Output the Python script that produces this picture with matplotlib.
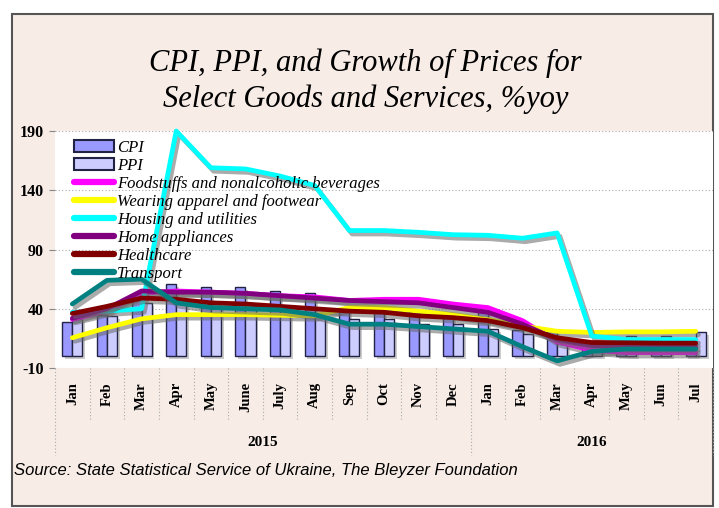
import matplotlib
matplotlib.use('Agg')
import matplotlib.pyplot as plt
import numpy as np
from matplotlib import patheffects as pe
from matplotlib.patches import Rectangle, Patch
from matplotlib.lines import Line2D

plt.rcParams['axes.unicode_minus'] = False

months = ["Jan", "Feb", "Mar", "Apr", "May", "June", "July", "Aug", "Sep", "Oct",
          "Nov", "Dec", "Jan", "Feb", "Mar", "Apr", "May", "Jun", "Jul"]
years = ["2015", "2016"]
cpi = [28.5, 35, 47, 61, 58, 58, 55, 53, 40, 39, 38, 36, 37, 22, 21, 9.8, 7.5, 7, 8]
ppi = [31, 34, 45, 49, 42, 41, 38, 35, 31, 31, 27, 27, 22.5, 19, 13, 13, 17, 17, 20]
food = [31, 38, 53, 55, 54, 53, 51, 50, 47, 48, 48, 44, 41, 30, 12, 5, 3, 3, 3]
apparel = [15.5, 24, 31.5, 35, 35, 35, 34.5, 34, 41, 41, 38, 35, 31, 25.5, 21, 20, 20.5, 20.5, 21]
housing = [37, 38, 40, 190, 159, 158, 152, 144, 106, 106, 104.5, 102.5, 102, 99.5, 104, 17, 14, 14, 14]
appliances = [32, 40, 55, 54, 54, 53, 51, 49, 47, 46, 45, 41, 37, 27, 14, 9, 8, 8, 8]
health = [36, 42, 49, 48, 45, 44, 42, 40, 38, 37, 34, 32.5, 30, 24, 15.5, 11.5, 11.3, 11, 11]
transport = [44, 64, 65, 45, 41, 40, 39, 35, 27, 27, 25, 23, 21, 8, -4, 4, 6, 6, 6]

series = [
    ("Foodstuffs and nonalcoholic beverages", food, "#FF00FF"),
    ("Wearing apparel and footwear", apparel, "#FFFF00"),
    ("Housing and utilities", housing, "#00FFFF"),
    ("Home appliances", appliances, "#800080"),
    ("Healthcare", health, "#800000"),
    ("Transport", transport, "#008080"),
]

W, H = 719, 508
fig = plt.figure(figsize=(W / 100, H / 100), dpi=100)
fig.patch.set_facecolor("white")

# outer frame with pink fill
frame = Rectangle((12 / W, 1 - 506 / H), (713 - 12) / W, (506 - 14) / H,
                  transform=fig.transFigure, facecolor="#F7ECE6",
                  edgecolor="#555555", linewidth=1.5, zorder=-10)
fig.patches.append(frame)

left, right, top, bottom = 55, 713, 131, 368
ax = fig.add_axes([left / W, 1 - bottom / H, (right - left) / W, (bottom - top) / H])
ax.set_zorder(1)
ax.set_facecolor("white")

x = np.arange(len(months))
bw = 0.29
shadow = [pe.SimplePatchShadow(offset=(2, -2), shadow_rgbFace="gray", alpha=0.4), pe.Normal()]
ax.bar(x - bw / 2, cpi, bw, color="#9999FF", edgecolor="#222244", linewidth=1.0,
       zorder=3, path_effects=shadow, label="CPI")
ax.bar(x + bw / 2, ppi, bw, color="#CCCCFF", edgecolor="#222244", linewidth=1.0,
       zorder=3, path_effects=shadow, label="PPI")

lshadow = [pe.SimpleLineShadow(offset=(2, -2.5), shadow_color="#666666", alpha=0.55), pe.Normal()]
for name, vals, col in series:
    ax.plot(x, vals, color=col, linewidth=3.4, solid_capstyle="round",
            solid_joinstyle="round", zorder=4, path_effects=lshadow, label=name,
            clip_on=False)

ax.set_xlim(-0.5, len(months) - 0.5)
ax.set_ylim(-10, 190)
ax.set_yticks([-10, 40, 90, 140, 190])
for yv in [-10, 40, 90, 140, 190]:
    ax.axhline(yv, color="#AAAAAA", linestyle=(0, (1, 2)), linewidth=0.8, zorder=1)
for s in ax.spines.values():
    s.set_visible(False)
ax.tick_params(axis="y", length=4, color="#888888", pad=4)
for lab in ax.get_yticklabels():
    lab.set_fontfamily("Liberation Serif")
    lab.set_fontweight("bold")
    lab.set_fontsize(11.5)

ax.set_xticks(x)
ax.set_xticklabels(months, rotation=90, fontfamily="Liberation Serif",
                   fontweight="bold", fontsize=10.5, va="top")
ax.tick_params(axis="x", length=0, pad=10)

# separators below axis
trans = ax.get_xaxis_transform()
for b in np.arange(-0.5, len(months), 1.0):
    longline = b in (-0.5, 11.5, 18.5)
    y1 = -0.367 if longline else -0.219
    ax.plot([b, b], [0, y1], transform=trans, color="#AAAAAA",
            linestyle=(0, (1, 2)), linewidth=0.8, clip_on=False)
ax.text(5.5, -0.315, years[0], transform=trans, ha="center", va="center",
        fontfamily="Liberation Serif", fontweight="bold", fontsize=11)
ax.text(15, -0.315, years[1], transform=trans, ha="center", va="center",
        fontfamily="Liberation Serif", fontweight="bold", fontsize=11)

# legend
handles = [Patch(facecolor="#9999FF", edgecolor="#222244", linewidth=1.5),
           Patch(facecolor="#CCCCFF", edgecolor="#222244", linewidth=1.5)]
labels = ["CPI", "PPI"]
for name, vals, col in series:
    handles.append(Line2D([], [], color=col, linewidth=4.5, solid_capstyle="round"))
    labels.append(name)
leg = ax.legend(handles, labels, loc="upper left", bbox_to_anchor=(0.015, 1.0),
                frameon=False, prop={"family": "Liberation Serif", "style": "italic",
                                     "size": 12},
                handlelength=2.4, handleheight=0.7, handletextpad=0.2,
                labelspacing=0.12, borderaxespad=0.15)
leg.set_zorder(5)

fig.text(0.508, 1 - 81 / H, "CPI, PPI, and Growth of Prices for\nSelect Goods and Services, %yoy",
         ha="center", va="center", fontfamily="Liberation Serif", style="italic",
         fontsize=22, linespacing=1.3)
fig.text(14 / W, 1 - 470 / H, "Source: State Statistical Service of Ukraine, The Bleyzer Foundation",
         ha="left", va="center", fontfamily=["Liberation Sans Narrow", "Liberation Sans"],
         style="italic", fontsize=12)

fig.savefig("out.png", dpi=100, facecolor=fig.get_facecolor())
